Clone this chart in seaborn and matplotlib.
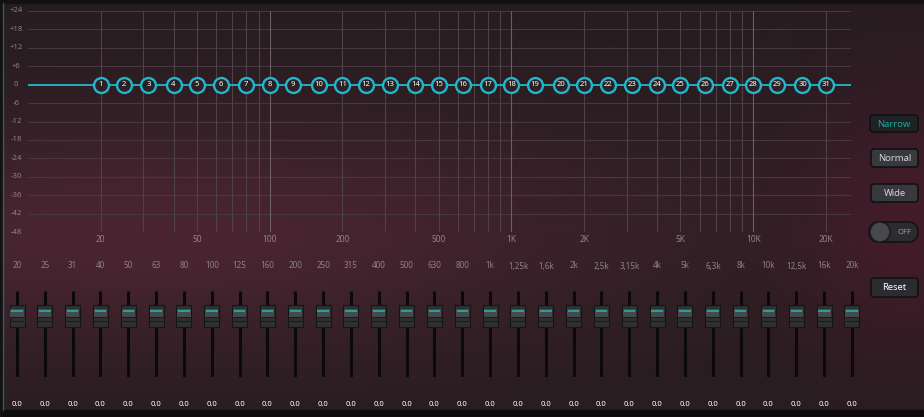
import numpy as np
import matplotlib
matplotlib.use("Agg")
import matplotlib.pyplot as plt
import matplotlib.transforms as mtransforms
from matplotlib.patches import FancyBboxPatch, Rectangle, Circle
import pandas as pd
import seaborn as sns

# band data
band_freqs = [20, 25, 31.5, 40, 50, 63, 80, 100, 125, 160, 200, 250, 315, 400, 500,
              630, 800, 1000, 1250, 1600, 2000, 2500, 3150, 4000, 5000, 6300, 8000,
              10000, 12500, 16000, 20000]
band_labels = ["20", "25", "31", "40", "50", "63", "80", "100", "125", "160", "200",
               "250", "315", "400", "500", "630", "800", "1k", "1,25k", "1,6k", "2k",
               "2,5k", "3,15k", "4k", "5k", "6,3k", "8k", "10k", "12,5k", "16k", "20k"]
band_gains = [0.0] * 31

gain_ticks = [24, 18, 12, 6, 0, -6, -12, -18, -24, -30, -36, -42, -48]
gain_tick_labels = ["+24", "+18", "+12", "+6", "0", "-6", "-12", "-18", "-24",
                    "-30", "-36", "-42", "-48"]
freq_ticks = [20, 50, 100, 200, 500, 1000, 2000, 5000, 10000, 20000]
freq_tick_labels = ["20", "50", "100", "200", "500", "1K", "2K", "5K", "10K", "20K"]
freq_range = (10, 25400)
slider_range = (-60, 24)

width_buttons = ["Narrow", "Normal", "Wide"]
active_button = "Narrow"

W, H = 924, 417
CYAN = "#22b6ca"

sns.set_theme(style="dark")
plt.rcParams["font.family"] = ["Noto Sans", "DejaVu Sans"]

fig = plt.figure(figsize=(W / 100, H / 100), dpi=100)


def px_axes(x0, y0, x1, y1):
    # axes from pixel box (top-left origin)
    return fig.add_axes([x0 / W, 1 - y1 / H, (x1 - x0) / W, (y1 - y0) / H])


# ---- background panel ----
bg = fig.add_axes([0, 0, 1, 1], zorder=0)
yy, xx = np.mgrid[0:H, 0:W]
base = np.array([0x27, 0x1d, 0x20]) / 255
warm = np.array([0x4a, 0x25, 0x31]) / 255
side = np.array([0x42, 0x1b, 0x28]) / 255
b1 = np.exp(-((xx - 150) / 520) ** 2 - ((yy - 235) / 115) ** 2)
b2 = np.exp(-((xx - 910) / 110) ** 2 - ((yy - 220) / 130) ** 2)
img = base[None, None, :] * np.ones((H, W, 1))
img = img + b1[..., None] * (warm - base) + b2[..., None] * (side - base) * (1 - b1[..., None])
img = np.clip(img, 0, 1)
bg.imshow(img, extent=(0, W, H, 0), aspect="auto", interpolation="bilinear")
bg.set_xlim(0, W)
bg.set_ylim(H, 0)
bg.axis("off")

# frame
bg.add_patch(Rectangle((0, 0), W, 3, color="#151012"))
bg.add_patch(Rectangle((0, 410), W, 7, color="#0e0b0c"))
bg.add_patch(Rectangle((0, 0), 2, H, color="#151012"))
bg.plot([2.5, 2.5], [3, 410], color="#2a8f9c", lw=1, alpha=0.6)

# right side buttons
btn_boxes = {"Narrow": (870, 115, 48, 17), "Normal": (871, 149, 47, 18),
             "Wide": (871, 184, 47, 18)}
for name in width_buttons:
    x, y, w, h = btn_boxes[name]
    active = name == active_button
    bg.add_patch(FancyBboxPatch((x, y), w, h, boxstyle="round,pad=0,rounding_size=3",
                                fc="#1d2224" if active else "#38393e",
                                ec="#121112", lw=1.2))
    bg.text(x + w / 2, y + h / 2 + 0.5, name, ha="center", va="center", fontsize=6.8,
            color="#1fa79c" if active else "#d6d6d6")

# toggle
bg.add_patch(FancyBboxPatch((869, 222), 49, 20, boxstyle="round,pad=0,rounding_size=10",
                            fc="#2b2b30", ec="#141314", lw=1.2))
bg.add_patch(Circle((880, 232), 10, fc="#48484c", ec="#1a1a1c", lw=1))
bg.text(905, 232.5, "OFF", ha="center", va="center", fontsize=5.5, color="#9c9c9c",
        fontweight="bold")

# reset
bg.add_patch(FancyBboxPatch((871, 278), 47, 19, boxstyle="round,pad=0,rounding_size=3",
                            fc="#2a2c31", ec="#111", lw=1.2))
bg.text(894.5, 288, "Reset", ha="center", va="center", fontsize=6.8, color="white",
        fontweight="bold")

# ---- response graph ----
ax = px_axes(28, 11, 851, 232)
ax.set_zorder(1)
ax.patch.set_alpha(0)
ax.set_xscale("log")
ax.set_xlim(*freq_range)
ax.set_ylim(-48, 24)

for y in gain_ticks:
    ax.axhline(y, color="#463840", lw=0.8, zorder=1)
for dec in [10, 100, 1000, 10000]:
    for m in range(1, 10):
        f = m * dec
        if 20 <= f <= 20000:
            ax.axvline(f, color="#6c5e64" if m == 1 else "#4f4148", lw=0.8, zorder=1)

curve = pd.DataFrame({"freq": [freq_range[0]] + band_freqs + [freq_range[1]],
                      "gain": [band_gains[0]] + band_gains + [band_gains[-1]]})
sns.lineplot(data=curve, x="freq", y="gain", ax=ax, color=CYAN, lw=1.3, zorder=3)

bands = pd.DataFrame({"freq": band_freqs, "gain": band_gains})
sns.scatterplot(data=bands, x="freq", y="gain", ax=ax, s=115, color="#2a2026",
                edgecolor=CYAN, linewidth=1.7, zorder=4)
for i, (f, g) in enumerate(zip(band_freqs, band_gains)):
    ax.text(f, g, str(i + 1), ha="center", va="center", fontsize=5.5, color="white",
            fontweight="bold", zorder=5)

ax.set_xticks([])
ax.set_yticks([])
ax.set_xlabel("")
ax.set_ylabel("")
for s in ax.spines.values():
    s.set_visible(False)

ytrans = mtransforms.blended_transform_factory(fig.transFigure, ax.transData)
for y, lab in zip(gain_ticks, gain_tick_labels):
    ax.text(16 / W, y, lab, transform=ytrans, ha="center", va="center", fontsize=5.6,
            color="#8b8186")
xtrans = mtransforms.blended_transform_factory(ax.transData, fig.transFigure)
for f, lab in zip(freq_ticks, freq_tick_labels):
    ax.text(f, 1 - 240 / H, lab, transform=xtrans, ha="center", va="center",
            fontsize=6, color="#8f8589")

# ---- sliders ----
step = (852 - 17) / 30
sx = px_axes(17 - step / 2, 291, 852 + step / 2, 377)
sx.set_zorder(1)
sx.patch.set_alpha(0)
sx.set_xlim(-0.5, 30.5)
sx.set_ylim(*slider_range)
sx.axis("off")

idx = np.arange(len(band_gains))
sx.vlines(idx, slider_range[0], slider_range[1], color="#0b0909", lw=2.2, zorder=1)
du = (slider_range[1] - slider_range[0]) / 86  # units per pixel
kw = 15 / step
for i, g in enumerate(band_gains):
    sx.add_patch(Rectangle((i - kw / 2, g - 11 * du), kw, 22 * du, fc="#2f3031",
                           ec="#151516", lw=0.8, zorder=2))
    sx.add_patch(Rectangle((i - kw / 2 + 0.03, g - 1 * du), kw - 0.06, 8 * du,
                           fc="#48494b", ec="none", zorder=3))
    sx.plot([i - kw / 2 + 0.06, i + kw / 2 - 0.06], [g + 4.5 * du] * 2, color="#1fb2a6",
            lw=1.2, zorder=4, solid_capstyle="butt")
    for off in (-1.5, -5):
        sx.plot([i - kw / 2 + 0.04, i + kw / 2 - 0.04], [g + off * du] * 2,
                color="#1c1c1d", lw=0.8, zorder=4)

strans = mtransforms.blended_transform_factory(sx.transData, fig.transFigure)
for i, (lab, g) in enumerate(zip(band_labels, band_gains)):
    sx.text(i, 1 - 266 / H, lab, transform=strans, ha="center", va="center",
            fontsize=5.8, color="#8c8286")
    sx.text(i, 1 - 405 / H, f"{g:.1f}", transform=strans, ha="center", va="center",
            fontsize=5.5, color="white", fontweight="bold")

fig.savefig("out.png", dpi=100)
